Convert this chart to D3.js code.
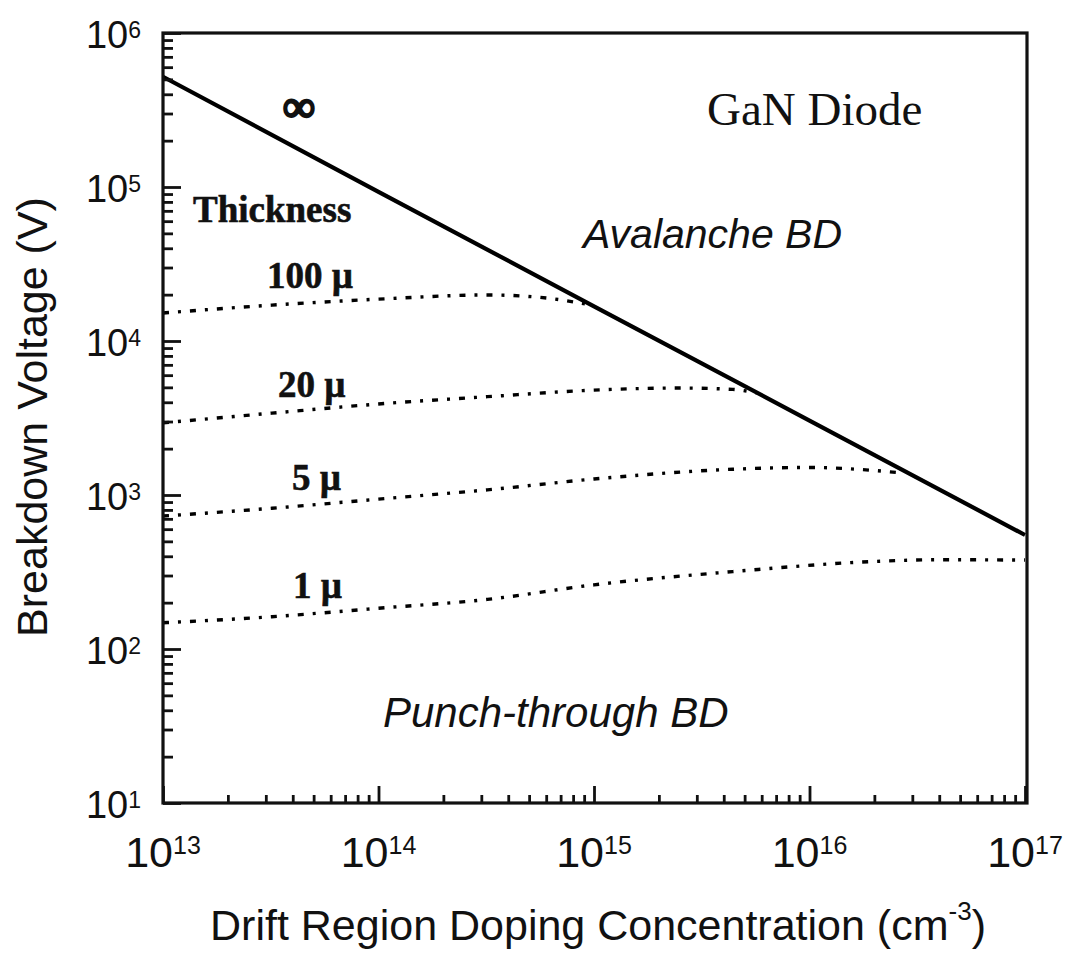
<!DOCTYPE html>
<html>
<head>
<meta charset="utf-8">
<script src="https://cdn.jsdelivr.net/npm/d3@7"></script>
<style>
    body { margin: 0; background: #fff; }
    svg { display: block; }
</style>
</head>
<body>
<div id="chart"></div>
<script>
// decade exponents used for the tick labels
const xExponents = [13, 14, 15, 16, 17]
const yExponents = [1, 2, 3, 4, 5, 6]

// avalanche limit (infinite drift thickness), [doping cm^-3, volts]
const avalanche = [[1e13, 5.2e5], [1e14, 9.3e4], [1e15, 1.68e4], [1e16, 3.04e3], [1e17, 5.5e2]]

// punch-through breakdown for each drift region thickness
const pt100 = [[1e13, 1.52e4], [3.2e13, 1.71e4], [1e14, 1.87e4], [3.2e14, 1.99e4], [5.6e14, 1.92e4], [7e14, 1.85e4], [9.5e14, 1.72e4]]
const pt20 = [[1e13, 2.94e3], [3.2e13, 3.4e3], [1e14, 3.9e3], [3.2e14, 4.35e3], [1e15, 4.8e3], [2.5e15, 4.95e3], [4.4e15, 4.85e3], [5.7e15, 4.6e3]]
const pt5 = [[1e13, 7.3e2], [3.2e13, 8.2e2], [1e14, 9.4e2], [3.2e14, 1.08e3], [1e15, 1.27e3], [4.4e15, 1.47e3], [1e16, 1.51e3], [1.9e16, 1.45e3], [2.55e16, 1.4e3]]
const pt1 = [[1e13, 148], [3.2e13, 162], [1e14, 184], [3.2e14, 210], [1e15, 261], [4.4e15, 318], [1.9e16, 369], [4e16, 380], [1e17, 378]]

const thicknessCurves = [pt100, pt20, pt5, pt1]
const thicknessNames = ["100 µ", "20 µ", "5 µ", "1 µ"]

const width = 1066, height = 954
const margin = { top: 33, right: 41, bottom: 151, left: 163 }

const xScale = d3.scaleLog().domain([1e13, 1e17]).range([margin.left, width - margin.right])
const yScale = d3.scaleLog().domain([1e1, 1e6]).range([height - margin.bottom, margin.top])

const svg = d3.select("#chart")
    .append("svg")
    .attr("width", width)
    .attr("height", height)
    .attr("viewBox", [0, 0, width, height])

svg.append("rect").attr("width", width).attr("height", height).attr("fill", "#fff")

// minor ticks 2..9 within each decade
function minorTicks(exps) {
    const out = []
    exps.slice(0, -1).forEach(e => {
        for (let m = 2; m <= 9; m++) out.push(m * Math.pow(10, e))
    })
    return out
}

function drawAxes() {
    const xMajor = xExponents.map(e => Math.pow(10, e))
    const yMajor = yExponents.map(e => Math.pow(10, e))
    const bottom = height - margin.bottom

    const addAxis = (axis, transform) => {
        svg.append("g")
            .attr("transform", transform)
            .call(axis)
            .call(g => g.select(".domain").remove())
            .call(g => g.selectAll("line").attr("stroke", "#111").attr("stroke-width", 2.8))
    }

    // ticks point inward
    addAxis(d3.axisBottom(xScale).tickValues(xMajor).tickSize(-17).tickFormat(""), `translate(0,${bottom})`)
    addAxis(d3.axisBottom(xScale).tickValues(minorTicks(xExponents)).tickSize(-8).tickFormat(""), `translate(0,${bottom})`)
    addAxis(d3.axisLeft(yScale).tickValues(yMajor).tickSize(-18).tickFormat(""), `translate(${margin.left},0)`)
    addAxis(d3.axisLeft(yScale).tickValues(minorTicks(yExponents)).tickSize(-10).tickFormat(""), `translate(${margin.left},0)`)

    // frame
    svg.append("rect")
        .attr("x", margin.left)
        .attr("y", margin.top)
        .attr("width", width - margin.right - margin.left + 2)
        .attr("height", bottom - margin.top)
        .attr("fill", "none")
        .attr("stroke", "#111")
        .attr("stroke-width", 3.2)

    // x tick labels: 10 with superscript exponent
    const xLab = svg.append("g")
        .selectAll("text")
        .data(xExponents)
        .enter().append("text")
        .attr("x", d => xScale(Math.pow(10, d)))
        .attr("y", bottom + 64)
        .attr("text-anchor", "middle")
        .attr("font-family", "Liberation Sans, Arial, sans-serif")
        .attr("font-size", 43)
        .attr("fill", "#111")
    xLab.append("tspan").text("10")
    xLab.append("tspan").attr("font-size", 25).attr("dy", -13).text(d => d)

    const yLab = svg.append("g")
        .selectAll("text")
        .data(yExponents)
        .enter().append("text")
        .attr("x", margin.left - 22)
        .attr("y", d => yScale(Math.pow(10, d)) + 15)
        .attr("text-anchor", "end")
        .attr("font-family", "Liberation Sans, Arial, sans-serif")
        .attr("font-size", 38)
        .attr("fill", "#111")
    yLab.append("tspan").text("10")
    yLab.append("tspan").attr("font-size", 23).attr("dy", -10).text(d => d)

    // axis titles
    const xTitle = svg.append("text")
        .attr("x", 598)
        .attr("y", 940)
        .attr("text-anchor", "middle")
        .attr("font-family", "Liberation Sans, Arial, sans-serif")
        .attr("font-size", 43)
        .attr("fill", "#111")
    xTitle.append("tspan").text("Drift Region Doping Concentration (cm")
    xTitle.append("tspan").attr("font-size", 26).attr("dy", -20).text("-3")
    xTitle.append("tspan").attr("dy", 20).text(")")

    svg.append("text")
        .attr("transform", "translate(47,417) rotate(-90)")
        .attr("text-anchor", "middle")
        .attr("font-family", "Liberation Sans, Arial, sans-serif")
        .attr("font-size", 43)
        .attr("fill", "#111")
        .text("Breakdown Voltage (V)")
}

function drawCurves() {
    const line = d3.line()
        .x(d => xScale(d[0]))
        .y(d => yScale(d[1]))

    // avalanche limit
    svg.append("path")
        .datum(avalanche)
        .attr("d", line)
        .attr("fill", "none")
        .attr("stroke", "#000")
        .attr("stroke-width", 4.2)

    const ptLine = d3.line()
        .x(d => xScale(d[0]))
        .y(d => yScale(d[1]))
        .curve(d3.curveMonotoneX)

    svg.selectAll(".pt-line")
        .data(thicknessCurves)
        .enter().append("path")
        .attr("class", "pt-line")
        .attr("d", ptLine)
        .attr("fill", "none")
        .attr("stroke", "#000")
        .attr("stroke-width", 3.4)
        .attr("stroke-dasharray", "6,9,3,9")
}

function drawNotes() {
    const serif = "Liberation Serif, Times New Roman, serif"
    const sans = "Liberation Sans, Arial, sans-serif"
    const notes = [
        { text: "∞", x: 299, y: 121, font: serif, size: 44, weight: "bold", anchor: "middle", stroke: 2.6 },
        { text: "GaN Diode", x: 707, y: 125, font: serif, size: 47 },
        { text: "Thickness", x: 193, y: 222, font: serif, size: 37, weight: "bold", stroke: 0.6 },
        { text: "Avalanche BD", x: 583, y: 248, font: sans, size: 41, style: "italic" },
        { text: "Punch-through BD", x: 383, y: 727, font: sans, size: 42, style: "italic" },
    ]
    // thickness labels sit just above each dashed curve
    const labelPos = [[267, 288], [278, 397], [292, 490], [293, 598]]
    thicknessNames.forEach((t, i) => {
        notes.push({ text: t, x: labelPos[i][0], y: labelPos[i][1], font: serif, size: 37, weight: "bold", stroke: 0.6 })
    })

    svg.selectAll(".note")
        .data(notes)
        .enter().append("text")
        .attr("class", "note")
        .attr("x", d => d.x)
        .attr("y", d => d.y)
        .attr("text-anchor", d => d.anchor || "start")
        .attr("font-family", d => d.font)
        .attr("font-size", d => d.size)
        .attr("font-weight", d => d.weight || "normal")
        .attr("font-style", d => d.style || "normal")
        .attr("fill", "#111")
        .attr("stroke", d => d.stroke ? "#111" : "none")
        .attr("stroke-width", d => d.stroke || 0)
        .text(d => d.text)
}

drawCurves()
drawAxes()
drawNotes()
</script>
</body>
</html>
